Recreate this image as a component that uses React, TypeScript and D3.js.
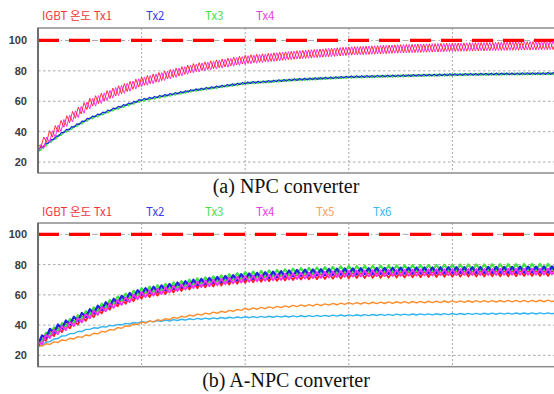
import React from 'react';
import * as d3 from 'd3';

// sample times (x axis units, gridline every 1.0)
const times = [0, 0.1, 0.25, 0.5, 0.75, 1, 1.5, 2, 2.5, 3, 3.5, 4, 4.5, 5];

// (a) NPC converter - mean temperature
const npcTx1 = [30, 37, 46, 59, 66.5, 73, 82, 87.5, 90.5, 93, 94.5, 95.5, 96.2, 96.8];
const npcTx4 = [27, 35, 45, 58, 66, 72.5, 81.5, 87, 90.5, 93, 94.5, 95.5, 96.2, 96.8];
const npcTx2 = [28, 33, 40, 49, 55.5, 61, 67.3, 72, 74.3, 76, 76.8, 77.5, 78, 78.3];
const npcTx3 = [27, 32.5, 39.5, 48.5, 55, 60.5, 67, 71.8, 74.2, 75.8, 76.7, 77.4, 77.9, 78.2];

// (b) A-NPC converter
const anpcTx1 = [27, 33, 38, 46, 54, 59.5, 66, 70, 72, 73, 73.5, 74, 74.3, 74.5];
const anpcTx2 = [29, 35, 40.5, 48.5, 56, 62, 68, 72, 74.5, 75.5, 76, 76.3, 76.5, 76.8];
const anpcTx3 = [28, 34.5, 40, 48.5, 56.5, 62.5, 68.5, 73, 75.5, 77, 77.5, 78, 78.3, 78.5];
const anpcTx4 = [27, 33, 38, 46.5, 54, 60, 66.5, 70.5, 72.5, 74, 74.5, 75, 75.2, 75.4];
const anpcTx5 = [26, 27.5, 30, 33.5, 37.5, 41.5, 46.5, 50.5, 52.7, 54.3, 55, 55.5, 55.8, 56];
const anpcTx6 = [26, 29, 33, 37.5, 40, 42, 44, 45.2, 45.8, 46.4, 46.9, 47.3, 47.6, 47.8];

// peak-to-peak ripple of each trace
const rippleNpcHi = [4, 6, 6, 6, 6, 6, 5.5, 5.5, 5.5, 5.5, 5.5, 5.5, 5.5, 5.5];
const rippleNpcLo = [1.2, 1.2, 1.2, 1.2, 1.2, 1.2, 1.2, 1.2, 1.2, 1.2, 1.2, 1.2, 1.2, 1.2];
const rippleAnpc = [3.5, 4, 4, 4, 4, 4, 4, 4, 4, 4, 4, 4, 4, 4];
const rippleTx5 = [1, 1, 1, 1, 1, 1, 1, 1, 1, 1, 1, 1, 1, 1];
const rippleTx6 = [0.7, 0.7, 0.7, 0.7, 0.7, 0.7, 0.7, 0.7, 0.7, 0.7, 0.7, 0.7, 0.7, 0.7];

const yTicks = [20, 40, 60, 80, 100];
const xGrid = [1, 2, 3, 4];
const limitValue = 100;
const legendNpc = ['IGBT 온도 Tx1', 'Tx2', 'Tx3', 'Tx4'];
const legendAnpc = ['IGBT 온도 Tx1', 'Tx2', 'Tx3', 'Tx4', 'Tx5', 'Tx6'];

const C = {
  red: '#ff1f1f', blue: '#2323e6', green: '#3fe23f', magenta: '#ff2cff',
  orange: '#ff8c2a', cyan: '#2fb4f0',
};
const legendColors = ['#f2333a', '#3b3bea', '#45e045', '#e63ee6', '#f7a060', '#3fb6ee'];
const legendX = [42, 146, 205, 256, 316, 373];

type Trace = { values: number[]; ripple: number[]; color: string; width: number; cycles: number; phase: number };

function ripplePath(x: d3.ScaleLinear<number, number>, y: d3.ScaleLinear<number, number>, tr: Trace) {
  const cen = d3.scaleLinear(times, tr.values);
  const amp = d3.scaleLinear(times, tr.ripple);
  const n = Math.round(5 * tr.cycles * 2);
  const pts: [number, number][] = d3.range(n + 1).map(i => {
    const t = (i * 5) / n;
    const s = (i + tr.phase) % 2 === 0 ? 1 : -1;
    return [x(t), y(cen(t) + (s * amp(t)) / 2)];
  });
  return d3.line()(pts) || '';
}

type PanelProps = {
  top: number; bottom: number; yTop: number; yBottom: number;
  legendY: number; legend: string[]; traces: Trace[]; caption: string; captionY: number;
};

const Panel = ({ top, bottom, yTop, yBottom, legendY, legend, traces, caption, captionY }: PanelProps) => {
  const left = 38, right = 556;
  const x = d3.scaleLinear().domain([0, 5]).range([left, right]);
  const y = d3.scaleLinear().domain([yBottom, yTop]).range([bottom, top]);
  const clipId = 'clip' + top;
  return (
    <g>
      {legend.map((l, i) => (
        <text key={l} x={legendX[i]} y={legendY} fill={legendColors[i]} fontSize={11.5}
          fontFamily="'Noto Sans CJK KR', 'Noto Sans', sans-serif">{l}</text>
      ))}
      <clipPath id={clipId}><rect x={left} y={top} width={right - left} height={bottom - top} /></clipPath>
      {yTicks.map(t => (
        <g key={t}>
          <line x1={left} x2={right} y1={y(t)} y2={y(t)} stroke="#a8a8a8" strokeWidth={1}
            strokeDasharray={t === 100 ? '6,3,1.5,3' : '2.5,2.5'} />
          <text x={27} y={y(t) + 4} textAnchor="end" fontSize={11} fontWeight="bold" fill="#3c3c3c"
            fontFamily="'Liberation Sans', Arial, sans-serif">{t}</text>
        </g>
      ))}
      {xGrid.map(t => (
        <line key={t} x1={x(t)} x2={x(t)} y1={top} y2={bottom} stroke="#a8a8a8" strokeWidth={1} strokeDasharray="2,2" />
      ))}
      <line x1={left} x2={right} y1={y(limitValue)} y2={y(limitValue)} stroke="#ff0000" strokeWidth={3.2}
        strokeDasharray="21,10" />
      <g clipPath={`url(#${clipId})`}>
        {traces.map((tr, i) => (
          <path key={i} d={ripplePath(x, y, tr)} fill="none" stroke={tr.color} strokeWidth={tr.width}
            strokeLinejoin="round" />
        ))}
      </g>
      <rect x={left} y={top} width={right - left} height={bottom - top} fill="none" stroke="#8c8c8c" strokeWidth={1.5} />
      <line x1={left} x2={left} y1={top} y2={bottom} stroke="#6e6e6e" strokeWidth={2} />
      <text x={286} y={captionY} textAnchor="middle" fontSize={20}
        fontFamily="'Liberation Serif', 'Times New Roman', serif" fill="#111">{caption}</text>
    </g>
  );
};

const npcTraces: Trace[] = [
  { values: npcTx3, ripple: rippleNpcLo, color: C.green, width: 1.6, cycles: 20, phase: 0 },
  { values: npcTx2, ripple: rippleNpcLo, color: C.blue, width: 1.2, cycles: 20, phase: 1 },
  { values: npcTx4, ripple: rippleNpcHi, color: C.magenta, width: 1, cycles: 18, phase: 1 },
  { values: npcTx1, ripple: rippleNpcHi, color: C.red, width: 0.9, cycles: 18, phase: 0 },
];

const anpcTraces: Trace[] = [
  { values: anpcTx6, ripple: rippleTx6, color: C.cyan, width: 1.4, cycles: 13, phase: 0 },
  { values: anpcTx5, ripple: rippleTx5, color: C.orange, width: 1.4, cycles: 13, phase: 0 },
  { values: anpcTx1, ripple: rippleAnpc, color: C.red, width: 1.8, cycles: 13, phase: 1 },
  { values: anpcTx3, ripple: rippleAnpc, color: C.green, width: 2.2, cycles: 13, phase: 0 },
  { values: anpcTx2, ripple: rippleAnpc, color: C.blue, width: 2.2, cycles: 13, phase: 1 },
  { values: anpcTx4, ripple: rippleAnpc, color: C.magenta, width: 1.8, cycles: 13, phase: 0 },
];

export default function App() {
  return (
    <svg width={554} height={394} style={{ position: 'absolute', left: 0, top: 0, background: '#fff' }}>
      <rect width={554} height={394} fill="#fff" />
      <Panel top={28} bottom={173} yTop={108.2} yBottom={12.8} legendY={20} legend={legendNpc}
        traces={npcTraces} caption="(a) NPC converter" captionY={193} />
      <Panel top={223} bottom={366.7} yTop={107.5} yBottom={12.5} legendY={216} legend={legendAnpc}
        traces={anpcTraces} caption="(b) A-NPC converter" captionY={387} />
    </svg>
  );
}
